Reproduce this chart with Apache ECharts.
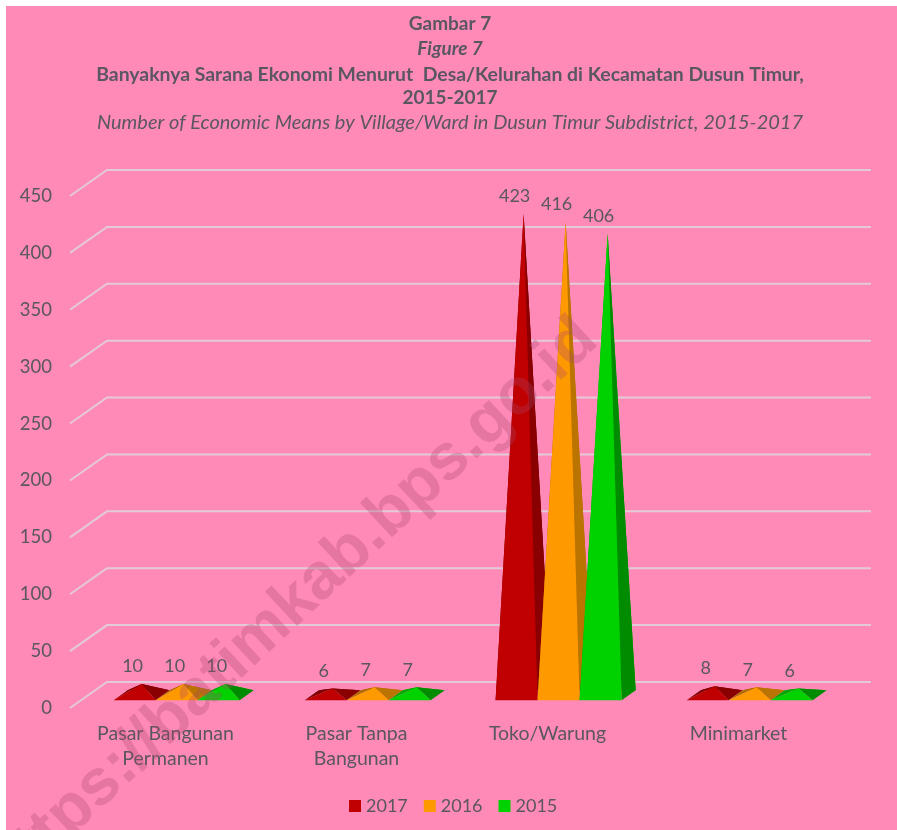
<!DOCTYPE html>
<html><head><meta charset="utf-8">
<style>html,body{margin:0;padding:0;background:#fff}#c{width:897px;height:830px}</style>
<script src="https://cdn.jsdelivr.net/npm/echarts@6/dist/echarts.min.js"></script>
</head><body><div id="c"></div>
<script>
const categories = ['Pasar Bangunan\nPermanen', 'Pasar Tanpa\nBangunan', 'Toko/Warung', 'Minimarket'];
const years = ['2017', '2016', '2015'];
const values2017 = [10, 6, 423, 8];
const values2016 = [10, 7, 416, 7];
const values2015 = [10, 7, 406, 6];
const yTicks = [0, 50, 100, 150, 200, 250, 300, 350, 400, 450];

const seriesValues = [values2017, values2016, values2015];
const faceColors = ['#C00000', '#FF9900', '#00D200'];
const sideColors = ['#8A0000', '#BB7400', '#008C00'];
const backColors = ['#7E0000', '#B06C00', '#00A800'];
const ink = '#5A5662';
const font = 'Lato';

// oblique depth of the 3D wall
const DX = 37, DY = 26;
const near = 0.30, far = 0.68; // bar footprint within the depth
const barShare = 0.22;

function wallItem(params, api) {
  const cs = params.coordSys;
  const p = api.coord([0, api.value(0)]);
  const y = p[1];
  return {
    type: 'polyline', silent: true,
    shape: { points: [[cs.x, y], [cs.x + DX, y - DY], [cs.x + cs.width + DX, y - DY]] },
    style: { fill: null, stroke: '#E4CAD8', lineWidth: 2 }
  };
}
function pyramidItem(idx) {
  return function (params, api) {
    const c = api.coord([api.value(0), 0]);
    const top = api.coord([api.value(0), api.value(1)]);
    const band = api.size([1, 0])[0];
    const w = band * barShare;
    const x0 = c[0] + DX * near + (idx - 1.5) * w;
    const y0 = c[1] - DY * near;
    const fl = [x0, y0], fr = [x0 + w, y0];
    const ddx = DX * (far - near), ddy = DY * (far - near);
    const bl = [x0 + ddx, y0 - ddy], br = [x0 + w + ddx, y0 - ddy];
    const mid = (near + far) / 2;
    const apex = [x0 + w / 2 + ddx / 2, top[1] - DY * mid];
    const poly = (pts, fill) => ({ type: 'polygon', shape: { points: pts }, style: { fill: fill } });
    return {
      type: 'group',
      children: [
        poly([bl, br, apex], backColors[idx]),
        poly([fl, bl, apex], backColors[idx]),
        poly([fr, br, apex], sideColors[idx]),
        poly([fl, fr, apex], faceColors[idx]),
        { type: 'text', style: { text: String(api.value(1)), x: apex[0] - 9, y: apex[1] - 17.5,
            align: 'center', verticalAlign: 'middle', fill: ink, font: '18px ' + font } }
      ]
    };
  };
}

const chart = echarts.init(document.getElementById('c'), null, { renderer: 'canvas' });
const titleLines = [
  { text: 'Gambar 7', top: 14, s: 19, bold: true, it: false },
  { text: 'Figure 7', top: 39, s: 19, bold: true, it: true },
  { text: 'Banyaknya Sarana Ekonomi Menurut  Desa/Kelurahan di Kecamatan Dusun Timur,', top: 65, s: 19.4, bold: true, it: false },
  { text: '2015-2017', top: 88, s: 19, bold: true, it: false },
  { text: 'Number of Economic Means by Village/Ward in Dusun Timur Subdistrict, 2015-2017', top: 113, s: 20, bold: false, it: true }
];
chart.setOption({
  animation: false,
  backgroundColor: '#fff',
  title: titleLines.map(t => ({
    text: t.text, left: 450, top: t.top, textAlign: 'center', padding: 0,
    textStyle: { color: ink, fontFamily: font, fontSize: t.s,
      fontWeight: t.bold ? 'bold' : 'normal', fontStyle: t.it ? 'italic' : 'normal' }
  })),
  grid: { left: 70, right: 63, top: 196, bottom: 122 },
  xAxis: { type: 'category', data: categories,
    axisLine: { show: false }, axisTick: { show: false }, splitLine: { show: false },
    axisLabel: { color: ink, fontFamily: font, fontSize: 19.5, lineHeight: 25, margin: 13, interval: 0 } },
  yAxis: { type: 'value', min: 0, max: 450, interval: 50,
    axisLine: { show: false }, axisTick: { show: false }, splitLine: { show: false },
    axisLabel: { color: ink, fontFamily: font, fontSize: 18.5, margin: 18, padding: [2, 0, 0, 0] } },
  legend: { data: years, left: 349, top: 797, padding: 0, itemWidth: 12, itemHeight: 12, itemGap: 16,
    icon: 'rect', textStyle: { color: ink, fontFamily: font, fontSize: 18 } },
  graphic: [
    { type: 'rect', z: -100, silent: true, shape: { x: 6, y: 6, width: 891, height: 824 }, style: { fill: '#FF8AB8' } },
    { type: 'text', z: 100, silent: true, rotation: Math.PI * 43 / 180, x: 292, y: 606,
      style: { text: 'https://batimkab.bps.go.id', align: 'center', verticalAlign: 'middle',
        font: 'bold 65px "Liberation Sans"', fill: 'rgba(170,70,110,0.30)' } }
  ],
  series: [
    { type: 'custom', name: 'walls', silent: true, z: 1, renderItem: wallItem,
      encode: { y: 0 }, data: yTicks.map(v => [v]) },
    ...years.map((y, i) => ({
      type: 'custom', name: y, z: 2 + i, renderItem: pyramidItem(i),
      itemStyle: { color: faceColors[i] }, encode: { x: 0, y: 1 },
      data: seriesValues[i].map((v, k) => [k, v])
    }))
  ]
});
</script></body></html>
